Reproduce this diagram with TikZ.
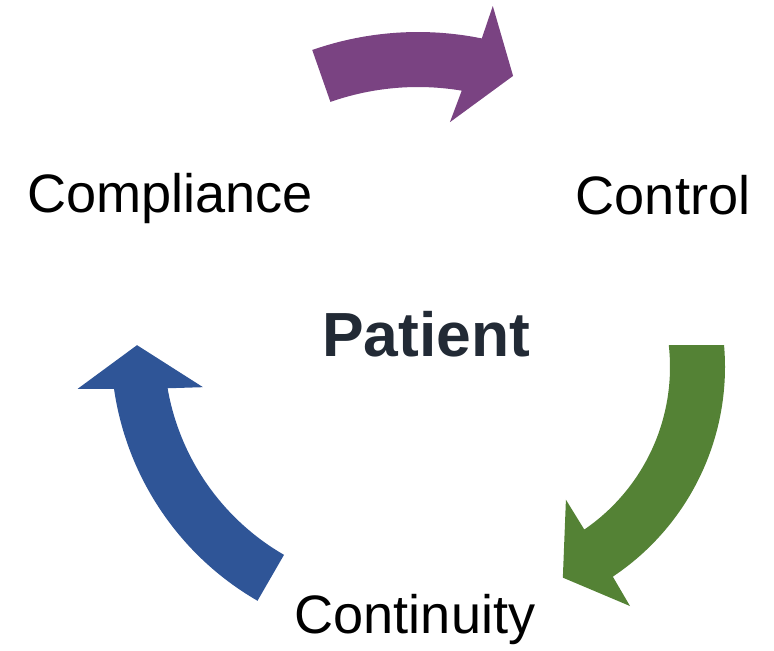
\documentclass[tikz,border=0pt]{standalone}
\usepackage{fontspec}
\setmainfont{Liberation Sans}
\usepackage{tikz}
\usetikzlibrary{positioning}
\definecolor{plum}{RGB}{122,67,130}
\definecolor{leafgreen}{RGB}{84,130,53}
\definecolor{royalblue}{RGB}{47,85,151}
\definecolor{slate}{RGB}{34,42,53}
\tikzset{
  cyclelabel/.style={font=\fontsize{30.8}{36}\selectfont, inner sep=0pt, anchor=base},
  hublabel/.style={font=\bfseries\fontsize{35.5}{42}\selectfont, text=slate, inner sep=0pt, anchor=base}
}

\begin{document}
\begin{tikzpicture}[x=0.02cm, y=-0.02cm]
  \useasboundingbox (0,0) rectangle (774,650);

  % compliance -> control
  \begin{scope}[shift={(418,352)}]
    \fill[plum] (-109.3:320) arc[start angle=-109.3, end angle=-78.5, radius=320]
      -- (-77.8:354) -- (-71:292) -- (-82.1:232) -- (-80.5:265)
      arc[start angle=-80.5, end angle=-109.3, radius=265] -- cycle;
  \end{scope}

  % control -> continuity
  \begin{scope}[shift={(473,367)}]
    \fill[leafgreen] (-5:252) arc[start angle=-5, end angle=56.3, radius=252]
      -- (56.7:286) -- (66.9:229) -- (55:162) -- (55.6:197)
      arc[start angle=55.6, end angle=-6.4, radius=197] -- cycle;
  \end{scope}

  % continuity -> compliance
  \begin{scope}[shift={(404,347)}]
    \fill[royalblue] (120:293) arc[start angle=120, end angle=171.8, radius=293]
      -- (172.7:329) -- (180.4:267) -- (168.7:205) -- (170.1:240)
      arc[start angle=170.1, end angle=120, radius=240] -- cycle;
  \end{scope}

  \node[cyclelabel] (compliance) at (170,212) {Compliance};
  \node[cyclelabel] (control) at (663,214) {Control};
  \node[cyclelabel] (continuity) at (415,633) {Continuity};
  \node[hublabel] (patient) at (426,356) {Patient};
\end{tikzpicture}
\end{document}
